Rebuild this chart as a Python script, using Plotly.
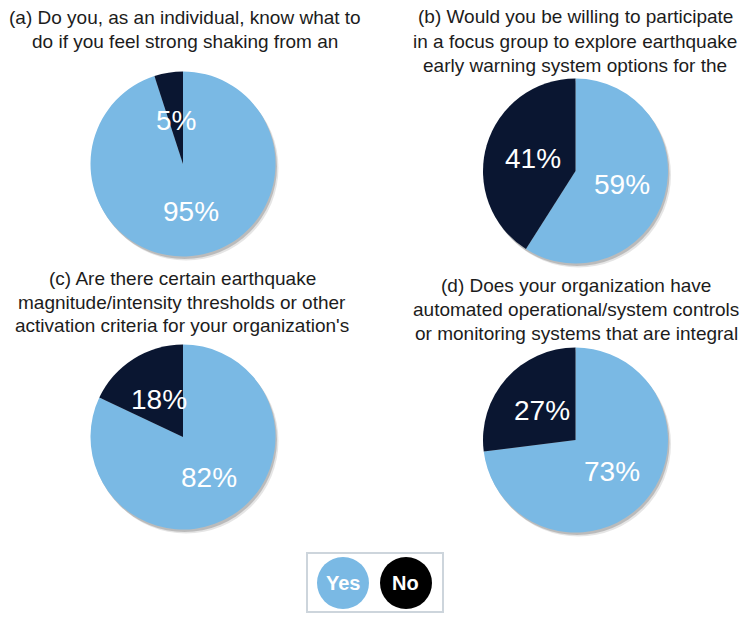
import math
import plotly.graph_objects as go

W, H = 740, 618

# Survey responses (percent)
answers = ["Yes", "No"]
yes_pct = [95, 59, 82, 73]
no_pct = [5, 41, 18, 27]

titles = [
    ["(a) Do you, as an individual, know what to",
     "do if you feel strong shaking from an"],
    ["(b) Would you be willing to participate",
     "in a focus group to explore earthquake",
     "early warning system options for the"],
    ["(c) Are there certain earthquake",
     "magnitude/intensity thresholds or other",
     "activation criteria for your organization's"],
    ["(d) Does your organization have",
     "automated operational/system controls",
     "or monitoring systems that are integral"],
]

YES_COLOR = "#7ab9e4"
NO_COLOR = "#0a1631"
FONT = "Liberation Sans, Arial, Helvetica, sans-serif"

# layout of each panel in pixels: pie centre, radius, title x and title line y's
panels = [
    dict(cx=183, cy=164, r=92.5, tx=185, ty=[18, 42]),
    dict(cx=575.5, cy=171, r=92.5, tx=575, ty=[17, 41, 65]),
    dict(cx=183, cy=437, r=92.5, tx=182, ty=[278, 302, 326]),
    dict(cx=575.5, cy=440, r=92.5, tx=576, ty=[285, 309, 333]),
]


def px(x):
    return x / W


def py(y):
    return 1 - y / H


def domain(cx, cy, r, dx=0.0, dy=0.0):
    return dict(x=[px(cx - r + dx), px(cx + r + dx)],
                y=[py(cy + r + dy), py(cy - r + dy)])


fig = go.Figure()
annotations = []

for i, p in enumerate(panels):
    # soft drop shadow behind the pie
    for dx, dy, a in [(3, 4, 0.10), (1.5, 2.5, 0.18)]:
        fig.add_trace(go.Pie(
            values=[1], labels=["shadow"], sort=False,
            marker=dict(colors=[f"rgba(0,0,0,{a})"], line=dict(width=0)),
            textinfo="none", hoverinfo="skip", showlegend=False,
            domain=domain(p["cx"], p["cy"], p["r"], dx, dy),
        ))
    vals = [yes_pct[i], no_pct[i]]
    fig.add_trace(go.Pie(
        values=vals, labels=answers, sort=False, direction="clockwise",
        rotation=0,
        marker=dict(colors=[YES_COLOR, NO_COLOR], line=dict(width=0)),
        textinfo="none", showlegend=False,
        domain=domain(p["cx"], p["cy"], p["r"]),
    ))

    # percentage labels placed at half radius along each slice's mid angle
    total = sum(vals)
    start = 0.0
    for v in vals:
        frac = v / total
        mid = (start + frac / 2) * 2 * math.pi
        start += frac
        rr = p["r"] * (0.52 if frac > 0.5 else 0.48)
        lx = p["cx"] + rr * math.sin(mid)
        ly = p["cy"] - rr * math.cos(mid)
        annotations.append(dict(
            x=px(lx), y=py(ly), xref="paper", yref="paper",
            text=f"{v}%", showarrow=False, xanchor="center", yanchor="middle",
            font=dict(family=FONT, size=28, color="white"),
        ))

    for line, ly in zip(titles[i], p["ty"]):
        annotations.append(dict(
            x=px(p["tx"]), y=py(ly), xref="paper", yref="paper",
            text=line, showarrow=False, xanchor="center", yanchor="middle",
            font=dict(family=FONT, size=19, color="#1c1c1c"),
        ))

# legend box with coloured discs
shapes = [dict(type="rect", xref="paper", yref="paper",
               x0=px(307), x1=px(443), y0=py(612), y1=py(553),
               line=dict(color="#cdd5dc", width=2), fillcolor="white",
               layer="below")]
legend_items = [("Yes", YES_COLOR, 343), ("No", "#000000", 406)]
for name, col, lx in legend_items:
    ly, lr = 583, 26
    shapes.append(dict(type="circle", xref="paper", yref="paper",
                       x0=px(lx - lr), x1=px(lx + lr),
                       y0=py(ly + lr), y1=py(ly - lr),
                       line=dict(width=0), fillcolor=col))
    annotations.append(dict(
        x=px(lx), y=py(ly), xref="paper", yref="paper",
        text=f"<b>{name}</b>", showarrow=False, xanchor="center",
        yanchor="middle", font=dict(family=FONT, size=20, color="white"),
    ))

fig.update_layout(
    width=W, height=H,
    margin=dict(l=0, r=0, t=0, b=0),
    paper_bgcolor="white", plot_bgcolor="white",
    annotations=annotations, shapes=shapes,
    showlegend=False,
)

fig.write_html("out.html")
